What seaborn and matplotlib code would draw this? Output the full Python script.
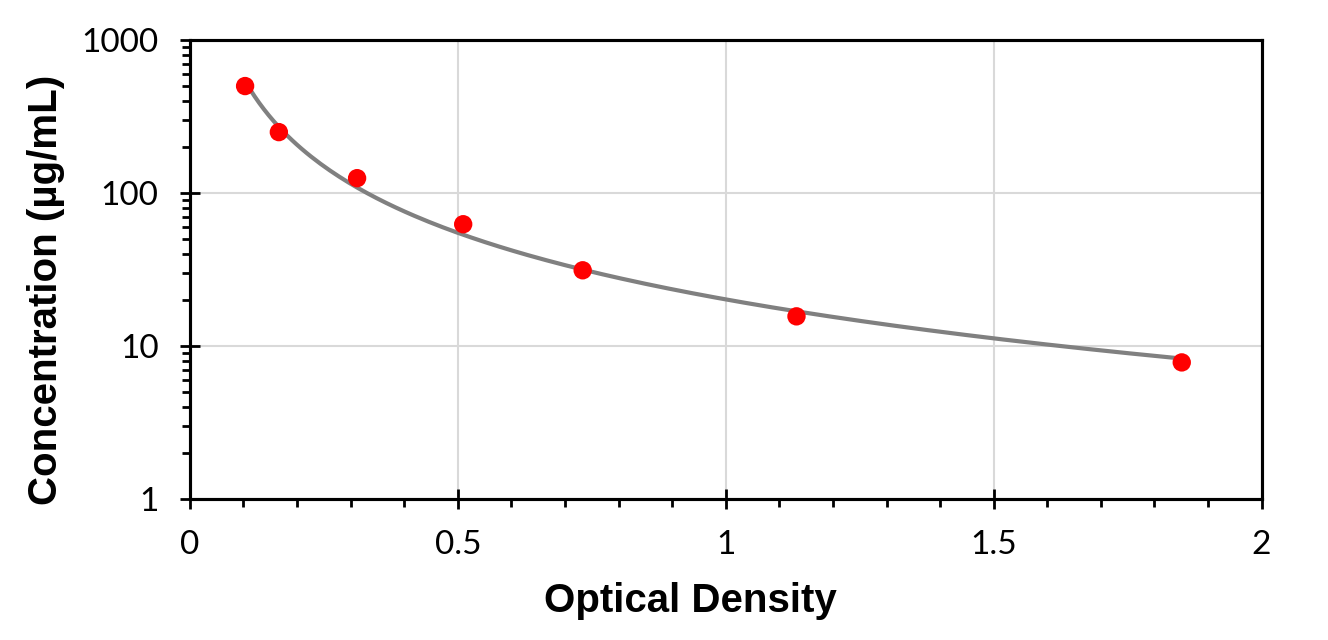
import numpy as np
import pandas as pd
import seaborn as sns
import matplotlib.pyplot as plt
from matplotlib.ticker import MultipleLocator, LogLocator, NullFormatter

# standard curve values
od = [0.103, 0.166, 0.312, 0.510, 0.733, 1.132, 1.851]
conc = [500, 250, 125, 62.5, 31.25, 15.625, 7.8125]

pts = pd.DataFrame({"od": od, "conc": conc})

# power trendline fitted on the points (log-log)
b, loga = np.polyfit(np.log(pts["od"]), np.log(pts["conc"]), 1)
xs = np.linspace(min(od), max(od), 200)
trend = pd.DataFrame({"od": xs, "conc": np.exp(loga) * xs ** b})

sns.set_style("ticks", {"text.color": "black", "axes.labelcolor": "black",
                        "xtick.color": "black", "ytick.color": "black"})
plt.rcParams["font.family"] = ["Lato", "DejaVu Sans"]

fig = plt.figure(figsize=(13.28, 6.4), dpi=100)
ax = fig.add_axes([0.143, 0.2203, 0.807, 0.7172])

sns.lineplot(data=trend, x="od", y="conc", color="#808080", linewidth=3, ax=ax, zorder=3)
sns.scatterplot(data=pts, x="od", y="conc", color="#ff0000", s=175, edgecolor="none", ax=ax, zorder=4)

ax.set_yscale("log")
ax.set_xlim(0, 2)
ax.set_ylim(1, 1000)
ax.set_xticks([0, 0.5, 1, 1.5, 2])
ax.set_xticklabels(["0", "0.5", "1", "1.5", "2"])
ax.xaxis.set_minor_locator(MultipleLocator(0.1))
ax.set_yticks([1, 10, 100, 1000])
ax.set_yticklabels(["1", "10", "100", "1000"])
ax.yaxis.set_minor_locator(LogLocator(base=10, subs=np.arange(2, 10), numticks=10))
ax.yaxis.set_minor_formatter(NullFormatter())

ax.grid(True, which="major", color="#d9d9d9", linewidth=1.5)
ax.tick_params(axis="both", which="major", direction="inout", length=15, width=2,
               labelsize=24, color="black", labelcolor="black", pad=15, bottom=True, left=True)
ax.tick_params(axis="both", which="minor", direction="out", length=6, width=2,
               color="black", bottom=True, left=True)
for sp in ax.spines.values():
    sp.set_visible(True)
    sp.set_color("black")
    sp.set_linewidth(2.25)

lab = dict(fontsize=29, fontweight="bold", color="black",
           family=["Liberation Sans", "DejaVu Sans"])
ax.set_xlabel("Optical Density", **lab)
ax.set_ylabel("Concentration (µg/mL)", **lab)
ax.xaxis.label.set_va("baseline")
ax.yaxis.label.set_va("baseline")
ax.xaxis.set_label_coords(0.467, -0.246)
ax.yaxis.set_label_coords(-0.124, 0.455)

fig.savefig("out.png", dpi=100)
